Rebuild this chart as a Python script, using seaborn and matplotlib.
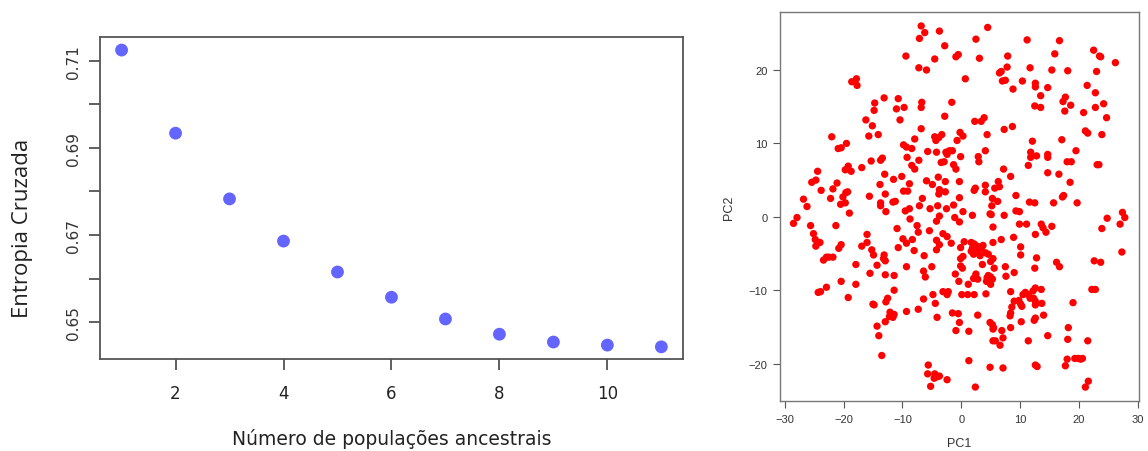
import matplotlib
matplotlib.use("Agg")
import matplotlib.pyplot as plt
import seaborn as sns
import pandas as pd

# ---- left panel data ----
k_values = [1, 2, 3, 4, 5, 6, 7, 8, 9, 10, 11]
cross_entropy = [0.7125, 0.6934, 0.6783, 0.6686, 0.6615, 0.6557, 0.6507, 0.6472, 0.6454, 0.6447, 0.6443]
left_xticks = [2, 4, 6, 8, 10]
left_yticks = [0.65, 0.66, 0.67, 0.68, 0.69, 0.70, 0.71]
left_ytick_labels = ["0.65", "", "0.67", "", "0.69", "", "0.71"]

# ---- right panel data (PC1, PC2) ----
pc_pairs = [
    (-6.8, 26.0), (-6.2, 25.1), (-3.7, 25.3), (4.5, 25.8), (-7.1, 24.3), (2.5, 24.2), (-2.8, 23.3),
    (22.5, 22.7), (15.9, 22.2), (23.5, 21.9), (23.7, 21.8), (-9.4, 21.9), (-4.5, 21.5), (3.1, 21.6),
    (-0.5, 22.1), (-0.9, 21.8), (7.9, 21.9), (26.2, 21.0), (-7.2, 20.3), (-5.9, 20.0), (7.8, 20.4),
    (6.8, 19.8), (6.5, 19.6), (11.7, 20.3), (15.4, 20.0), (18.1, 19.9), (23.0, 19.8), (11.2, 24.1),
    (16.7, 24.0), (0.7, 18.8), (-18.6, 18.4), (-17.8, 18.8), (-17.7, 17.9), (7.0, 18.5), (7.5, 18.6),
    (10.4, 18.5), (12.6, 18.2), (12.6, 17.7), (8.8, 17.4), (14.7, 17.6), (21.4, 17.9), (22.8, 16.9),
    (13.5, 16.5), (17.7, 16.3), (17.3, 15.7), (24.2, 15.4), (18.6, 15.2), (12.5, 15.1), (13.5, 14.9),
    (22.8, 14.9), (17.6, 14.4), (20.8, 14.2), (24.7, 13.5), (-13.1, 16.2), (-10.7, 16.1), (-14.7, 15.5),
    (-14.8, 14.5), (-11.0, 14.7), (-9.7, 14.9), (-6.7, 15.6), (-6.8, 14.9), (-1.6, 15.6), (-10.4, 13.2),
    (-16.2, 13.2), (-2.8, 13.7), (2.3, 13.0), (3.4, 13.0), (3.9, 13.5), (-15.1, 12.4), (-6.8, 12.0),
    (7.3, 11.9), (8.7, 12.3), (21.1, 11.7), (21.5, 11.4), (23.9, 11.2), (-14.1, 11.2), (-15.7, 11.0),
    (-22.0, 10.9), (-4.5, 10.9), (-3.8, 10.8), (-3.3, 11.2), (-0.2, 11.5), (0.3, 11.0), (4.4, 11.2),
    (-4.3, 10.4), (-7.9, 10.6), (-0.7, 10.4), (17.1, 10.5), (12.1, 10.3), (-19.5, 10.0), (-20.9, 9.3),
    (-20.4, 9.4), (-9.8, 9.8), (-9.3, 9.5), (-8.4, 9.3), (-5.7, 8.9), (-4.2, 8.8), (-2.6, 8.8),
    (-2.0, 9.0), (-1.5, 9.0), (4.1, 9.0), (19.5, 9.0), (11.8, 8.8), (11.8, 8.1), (12.8, 8.3),
    (14.7, 8.5), (14.7, 8.1), (-9.2, 8.1), (-13.4, 8.0), (-13.7, 7.7), (-15.3, 7.6), (-7.2, 7.7),
    (-2.4, 8.5), (-0.1, 8.2), (2.9, 8.2), (3.0, 7.5), (-3.4, 7.4), (-2.9, 7.5), (18.0, 7.5),
    (18.7, 7.5), (23.1, 7.1), (23.4, 7.1), (-8.4, 7.0), (-7.9, 6.5), (-1.3, 7.1), (-0.9, 6.5),
    (11.4, 7.0), (-16.9, 6.7), (-19.2, 6.9), (-19.7, 6.4), (-18.7, 6.2), (-24.4, 6.2), (7.2, 6.5),
    (14.7, 6.0), (16.6, 5.8), (-13.0, 5.8), (-10.1, 5.5), (-3.9, 5.4), (8.4, 5.5), (-11.5, 5.1),
    (-5.9, 4.9), (-2.7, 4.8), (-0.3, 4.8), (6.3, 4.8), (18.5, 4.7), (-21.1, 4.6), (-24.7, 5.0),
    (-25.4, 4.7), (-4.9, 4.4), (-8.8, 4.5), (-13.8, 4.4), (4.1, 4.3), (6.5, 4.1), (5.7, 3.9),
    (2.4, 3.9), (2.2, 3.6), (-3.7, 3.7), (-2.7, 3.4), (-21.8, 3.8), (-23.8, 3.6), (-19.3, 3.4),
    (-19.6, 3.3), (-9.8, 3.5), (-9.1, 3.5), (4.1, 3.4), (-12.9, 3.1), (-3.8, 3.1), (9.3, 2.9),
    (17.4, 2.9), (17.2, 2.7), (-15.6, 2.8), (-20.1, 2.7), (-22.2, 2.5), (-26.8, 2.4), (-6.6, 2.5),
    (-0.3, 2.6), (5.3, 2.5), (6.2, 2.1), (11.6, 2.0), (12.5, 1.9), (15.7, 1.9), (19.7, 1.9),
    (-11.6, 2.0), (-11.2, 2.1), (-13.7, 1.9), (-19.7, 1.9), (-20.5, 1.7), (-13.7, 1.5), (-7.1, 1.5),
    (-4.0, 1.5), (-1.3, 1.6), (5.2, 1.5), (-26.2, 1.4), (-5.3, 1.1), (-2.5, 1.1), (-8.8, 1.1),
    (-9.5, 0.8), (-12.8, 0.7), (-19.0, 0.5), (0.3, 0.7), (9.3, 0.8), (9.9, 0.7), (4.9, 0.4),
    (5.1, 0.3), (1.9, 0.2), (7.3, 0.2), (27.4, 0.6), (27.8, -0.1), (24.8, -0.2), (-27.9, -0.1),
    (-28.5, -0.9), (-3.7, 0.1), (-8.7, -0.3), (-1.1, -0.1), (-4.2, -0.6), (-0.3, -0.7), (9.9, -1.0),
    (11.1, -1.0), (27.0, -1.0), (13.6, -1.0), (13.9, -1.5), (15.4, -1.3), (-25.6, -1.2), (-21.3, -1.2),
    (-7.5, -1.2), (5.4, -1.4), (-10.9, -1.6), (23.9, -1.6), (-7.3, -2.1), (-5.4, -1.9), (14.4, -2.1),
    (-25.1, -2.3), (-16.0, -2.4), (-3.1, -2.3), (12.6, -2.4), (-2.4, -2.7), (8.9, -2.8), (-9.9, -3.0),
    (-8.3, -3.1), (-24.8, -3.1), (6.8, -3.1), (-24.0, -3.5), (-16.0, -3.5), (-4.2, -3.2), (-9.3, -3.6),
    (0.5, -3.4), (1.7, -3.5), (5.4, -3.5), (-1.7, -3.6), (-3.7, -3.8), (-24.7, -4.0), (-16.9, -4.0),
    (2.2, -3.7), (2.7, -4.0), (3.7, -3.9), (-10.7, -4.2), (-4.2, -4.5), (1.9, -4.3), (3.4, -4.3),
    (10.1, -4.1), (-20.8, -4.3), (-20.4, -3.8), (-0.1, -4.2), (2.9, -4.5), (1.7, -4.7), (-15.2, -4.5),
    (-8.0, -4.6), (4.1, -4.9), (4.6, -5.1), (2.1, -5.1), (27.3, -4.8), (-14.9, -5.2), (-13.1, -5.2),
    (0.3, -5.4), (-0.1, -5.7), (10.1, -5.2), (3.2, -5.3), (-6.3, -5.3), (-22.9, -5.5), (-22.5, -5.5),
    (-21.8, -5.5), (12.8, -5.6), (-13.2, -5.7), (-23.4, -5.9), (5.4, -5.7), (22.6, -6.0), (23.7, -6.2),
    (16.2, -6.2), (-12.9, -6.0), (5.0, -6.1), (-17.9, -6.5), (-14.3, -6.6), (3.6, -6.5), (16.7, -6.8),
    (-5.0, -6.8), (-0.1, -6.7), (7.5, -6.8), (-9.3, -6.8), (5.6, -7.0), (12.5, -7.0), (-6.4, -7.4),
    (0.2, -7.0), (-15.5, -7.7), (-1.0, -7.8), (9.0, -7.6), (-12.9, -7.9), (-11.4, -8.0), (2.5, -7.8),
    (7.6, -8.1), (-6.1, -8.2), (4.6, -8.0), (5.0, -8.2), (2.1, -8.4), (2.4, -8.2), (4.4, -8.3),
    (5.3, -8.5), (2.8, -8.5), (-0.4, -8.8), (-20.4, -8.8), (4.3, -8.8), (1.2, -9.2), (-17.9, -9.2),
    (5.0, -9.2), (12.6, -9.7), (13.6, -9.9), (22.2, -9.9), (22.8, -9.9), (-22.9, -9.6), (-11.4, -10.0),
    (8.4, -10.2), (-23.9, -10.2), (-24.3, -10.3), (-3.1, -10.2), (-2.2, -10.2), (10.9, -10.3),
    (12.2, -10.1), (-2.4, -10.6), (0.1, -10.6), (1.1, -10.6), (2.2, -10.6), (-4.8, -10.6), (4.2, -10.5),
    (10.5, -10.6), (11.4, -10.6), (11.7, -11.1), (12.3, -11.1), (-19.2, -11.0), (9.8, -11.4),
    (-12.5, -11.1), (-12.8, -11.6), (12.6, -11.5), (13.7, -11.8), (9.0, -11.5), (-6.4, -11.2),
    (-4.4, -11.8), (19.0, -11.7), (-15.0, -11.9), (-14.8, -12.0), (10.1, -11.9), (12.6, -12.0),
    (8.6, -12.3), (10.3, -12.2), (-7.3, -12.6), (-9.3, -12.9), (-12.1, -13.0), (-11.8, -13.4),
    (-11.4, -13.3), (8.4, -13.1), (-1.5, -13.1), (-0.5, -13.2), (14.0, -13.4), (-12.2, -13.6),
    (-11.6, -13.7), (2.8, -13.4), (8.3, -13.5), (12.6, -13.8), (12.4, -14.1), (-4.1, -13.7),
    (-12.9, -14.3), (10.2, -14.3), (-0.3, -14.4), (4.9, -14.4), (5.3, -14.7), (-14.3, -14.9),
    (5.5, -15.1), (18.2, -15.1), (8.4, -15.1), (5.4, -15.3), (-0.9, -15.5), (6.9, -15.5), (1.3, -15.6),
    (-14.0, -16.2), (14.7, -16.2), (7.1, -16.5), (18.1, -16.7), (5.4, -16.9), (5.8, -16.9), (11.4, -16.9),
    (21.5, -16.9), (6.6, -17.5), (-13.5, -18.9), (19.3, -19.3), (19.9, -19.3), (20.3, -19.4),
    (20.6, -19.3), (18.0, -19.4), (1.3, -19.6), (-5.6, -20.2), (17.7, -20.3), (12.6, -20.2),
    (12.9, -20.4), (4.9, -20.5), (7.1, -20.6), (-5.7, -21.4), (-4.5, -21.4), (-4.1, -21.8),
    (-3.7, -21.7), (-4.6, -22.0), (-2.4, -22.2), (21.6, -22.4), (-5.2, -23.1), (2.4, -23.2),
    (21.1, -23.2),
]
pc1 = [p[0] for p in pc_pairs]
pc2 = [p[1] for p in pc_pairs]
pc_xticks = [-30, -20, -10, 0, 10, 20, 30]
pc_yticks = [-20, -10, 0, 10, 20]

sns.set_theme(style="white")
plt.rcParams["font.family"] = ["DejaVu Sans"]

fig = plt.figure(figsize=(11.48, 4.52), dpi=100)
ax1 = fig.add_axes([0.0871, 0.2035, 0.5078, 0.7124])
ax2 = fig.add_axes([0.6794, 0.1106, 0.3127, 0.8606])

# ---- left panel ----
df1 = pd.DataFrame({"k": k_values, "ce": cross_entropy})
sns.scatterplot(data=df1, x="k", y="ce", ax=ax1, color="#6464FF", s=85,
                edgecolor="none", legend=False)
ax1.set_xlim(0.6, 11.4)
ax1.set_ylim(0.6415, 0.7155)
ax1.set_xticks(left_xticks)
ax1.set_xticklabels([str(t) for t in left_xticks], fontsize=12, color="#222222")
ax1.set_yticks(left_yticks)
ax1.set_yticklabels(left_ytick_labels, rotation=90, va="center", fontsize=11, color="#333333")
ax1.tick_params(axis="x", bottom=True, direction="out", length=8, width=1.2, color="#444444", pad=10)
ax1.tick_params(axis="y", left=True, direction="out", length=8, width=1.2, color="#444444", pad=6)
for side, sp in ax1.spines.items():
    sp.set_visible(True)
    sp.set_color("#555555")
    sp.set_linewidth(1.3)
ax1.set_xlabel("Número de populações ancestrais", fontsize=13.5, color="#222222", labelpad=19)
ax1.set_ylabel("Entropia Cruzada", family=["Open Sans", "DejaVu Sans"], fontsize=16,
               color="#222222")
ax1.yaxis.set_label_coords(-0.115, 0.41)

# ---- right panel ----
df2 = pd.DataFrame({"PC1": pc1, "PC2": pc2})
sns.scatterplot(data=df2, x="PC1", y="PC2", ax=ax2, color="#FF0000", s=28,
                edgecolor="none", legend=False)
ax2.set_xlim(-30.8, 30.2)
ax2.set_ylim(-25.1, 27.9)
ax2.set_xticks(pc_xticks)
ax2.set_yticks(pc_yticks)
ax2.set_xticklabels(["\u221230", "\u221220", "\u221210", "0", "10", "20", "30"],
                    family=["Liberation Sans", "DejaVu Sans"], fontsize=8, color="#333333")
ax2.set_yticklabels(["\u221220", "\u221210", "0", "10", "20"],
                    family=["Liberation Sans", "DejaVu Sans"], fontsize=8, color="#333333")
ax2.tick_params(axis="both", bottom=True, left=True, direction="out", length=5, width=0.8,
                color="#555555", pad=4)
for side, sp in ax2.spines.items():
    sp.set_visible(True)
    sp.set_color("#777777")
    sp.set_linewidth(1.0)
ax2.set_xlabel("PC1", family=["Liberation Sans", "DejaVu Sans"], fontsize=9, color="#333333", labelpad=10)
ax2.set_ylabel("PC2", family=["Liberation Sans", "DejaVu Sans"], fontsize=9, color="#333333", labelpad=10)

fig.savefig("out.png", dpi=100)
